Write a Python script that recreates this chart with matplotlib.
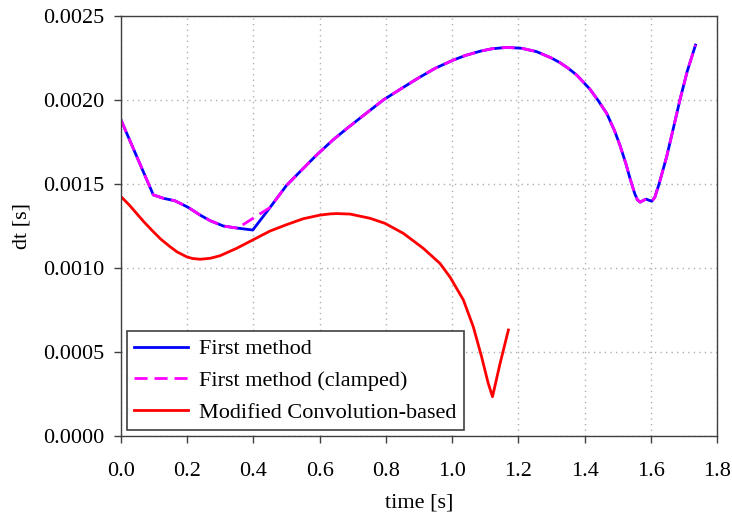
import matplotlib
matplotlib.use("Agg")
import matplotlib.pyplot as plt
import numpy as np
from matplotlib.ticker import FormatStrFormatter

plt.rcParams['font.family'] = ['Liberation Serif', 'DejaVu Serif']

# First method (blue)
t_first = [0.0, 0.0976, 0.128, 0.163, 0.203, 0.239, 0.269, 0.309, 0.349, 0.398,
           0.45, 0.5, 0.55, 0.591, 0.64, 0.682, 0.74, 0.792, 0.84, 0.893, 0.95,
           1.004, 1.04, 1.084, 1.12, 1.165, 1.21, 1.255, 1.3, 1.326, 1.35, 1.376, 1.416, 1.44, 1.467,
           1.49, 1.507, 1.525, 1.537, 1.552, 1.56, 1.568, 1.578, 1.586, 1.595, 1.603, 1.612, 1.625,
           1.648, 1.668, 1.688, 1.71, 1.735]
dt_first = [0.001881, 0.001435, 0.001415, 0.00140, 0.001361, 0.001315, 0.001282, 0.00125, 0.001238, 0.001226,
            0.00136, 0.001492, 0.001592, 0.001673, 0.001762, 0.00183, 0.00192, 0.002, 0.00206, 0.002125, 0.00219,
            0.002238, 0.002265, 0.00229, 0.002305, 0.002313, 0.002308, 0.002288, 0.00225, 0.002222, 0.00219,
            0.002149, 0.002065, 0.002, 0.00192,
            0.00182, 0.00173, 0.00162, 0.001535, 0.00144, 0.001405, 0.001392, 0.001403, 0.00141, 0.001403,
            0.001398, 0.00142, 0.0015,
            0.001663, 0.00183, 0.002, 0.00217, 0.002327]

# First method (clamped) (magenta dashed)
t_clamped = [0.0, 0.0976, 0.128, 0.163, 0.203, 0.239, 0.269, 0.309, 0.349, 0.36, 0.367] + t_first[10:]
dt_clamped = [0.001881, 0.001435, 0.001415, 0.00140, 0.001361, 0.001315, 0.001282, 0.00125, 0.001238,
              0.001236, 0.001256] + dt_first[10:]

# Modified Convolution-based (red)
t_conv = [0.0, 0.025, 0.047, 0.07, 0.0976, 0.12, 0.148, 0.17, 0.198, 0.215, 0.239, 0.27, 0.299, 0.349,
          0.4, 0.45, 0.5, 0.55, 0.601, 0.631, 0.651, 0.692, 0.752, 0.797, 0.853, 0.913, 0.963, 0.994,
          1.034, 1.064, 1.089, 1.109, 1.122, 1.145, 1.17]
dt_conv = [0.001425, 0.001375, 0.001325, 0.001273, 0.001216, 0.001172, 0.001127, 0.001095, 0.001067,
           0.001057, 0.001052, 0.001058, 0.001073, 0.001117,
           0.001169, 0.00122, 0.001258, 0.001293, 0.001315, 0.001322, 0.001324, 0.001321, 0.001296, 0.001266,
           0.001206, 0.001117, 0.001028, 0.000945, 0.00081, 0.00065, 0.000472, 0.000314, 0.000234,
           0.000433, 0.000631]

x_ticks = [0.0, 0.2, 0.4, 0.6, 0.8, 1.0, 1.2, 1.4, 1.6, 1.8]
y_ticks = [0.0, 0.0005, 0.0010, 0.0015, 0.0020, 0.0025]

fig = plt.figure(figsize=(7.32, 5.13), dpi=100)
ax = fig.add_axes([0.1653, 0.1501, 0.8142, 0.8187])

ax.plot(t_first, dt_first, color='#0000ff', lw=2.0, label='First method')
ax.plot(t_clamped, dt_clamped, color='#ff00ff', lw=2.0, ls=(0, (4.7, 2.5)), label='First method (clamped)')
ax.plot(t_conv, dt_conv, color='#ff0000', lw=2.0, label='Modified Convolution-based')

ax.set_xlim(0, 1.8)
ax.set_ylim(0, 0.0025)
ax.set_xticks(x_ticks)
ax.set_yticks(y_ticks)
ax.xaxis.set_major_formatter(FormatStrFormatter('%.1f'))
ax.yaxis.set_major_formatter(FormatStrFormatter('%.4f'))
ax.grid(True, ls=(0, (1, 3)), color='#b0b0b0', lw=1.0)
ax.tick_params(direction='out', length=5, width=1, labelsize=16, color='#404040')
ax.tick_params(axis='x', pad=14)
ax.tick_params(axis='y', pad=7)
for s in ax.spines.values():
    s.set_color('#404040')
    s.set_linewidth(1.0)
ax.set_xlabel('time [s]', fontsize=16, labelpad=9)
ax.set_ylabel('dt [s]', fontsize=16, labelpad=8)

leg = ax.legend(loc='lower left', fontsize=16, frameon=True, fancybox=False,
                edgecolor='#404040', framealpha=1, borderaxespad=0.25, handlelength=2.4,
                handletextpad=0.5, labelspacing=0.5, borderpad=0.35)
leg.get_frame().set_linewidth(1.2)

fig.savefig('out.png', dpi=100)
